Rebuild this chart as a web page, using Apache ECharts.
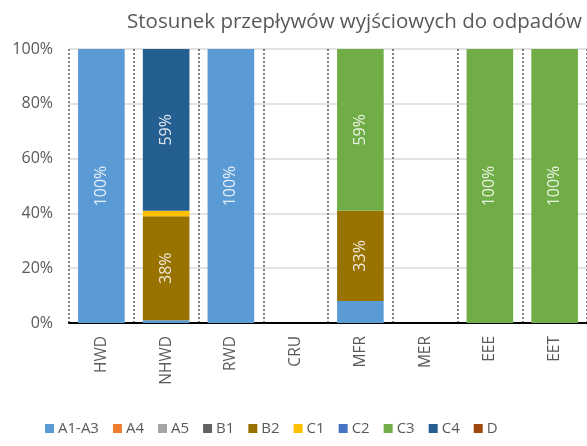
<!DOCTYPE html>
<html>
<head>
<meta charset="utf-8">
<script src="https://cdn.jsdelivr.net/npm/echarts@6/dist/echarts.min.js"></script>
<style>
  html, body { margin: 0; padding: 0; background: #fff; }
  #chart { width: 587px; height: 446px; }
</style>
</head>
<body>
<div id="chart"></div>
<script>
var categories = ['HWD', 'NHWD', 'RWD', 'CRU', 'MFR', 'MER', 'EEE', 'EET'];
var seriesNames = ['A1-A3', 'A4', 'A5', 'B1', 'B2', 'C1', 'C2', 'C3', 'C4', 'D'];
var seriesColors = ['#5B9BD5', '#ED7D31', '#A5A5A5', '#636363', '#997300', '#FFC000', '#4472C4', '#70AD47', '#255E91', '#9E480E'];

// udzial procentowy w kazdej kategorii
var a1a3 = [100, 1, 100, 0, 8, 0, 0, 0];
var a4 = [0, 0, 0, 0, 0, 0, 0, 0];
var a5 = [0, 0, 0, 0, 0, 0, 0, 0];
var b1 = [0, 0, 0, 0, 0, 0, 0, 0];
var b2 = [0, 38, 0, 0, 33, 0, 0, 0];
var c1 = [0, 2, 0, 0, 0, 0, 0, 0];
var c2 = [0, 0, 0, 0, 0, 0, 0, 0];
var c3 = [0, 0, 0, 0, 59, 0, 100, 100];
var c4 = [0, 59, 0, 0, 0, 0, 0, 0];
var d = [0, 0, 0, 0, 0, 0, 0, 0];
var yTicks = [0, 20, 40, 60, 80, 100];

var allData = [a1a3, a4, a5, b1, b2, c1, c2, c3, c4, d];
var textColor = '#595959';
var font = 'Open Sans';

var series = [];
for (var i = 0; i < seriesNames.length; i++) {
  series.push({
    name: seriesNames[i],
    type: 'bar',
    stack: 'total',
    barCategoryGap: '28%',
    data: allData[i],
    itemStyle: { color: seriesColors[i] },
    label: {
      show: true,
      position: 'inside',
      rotate: 90,
      color: 'rgba(255,255,255,0.85)',
      fontFamily: font,
      fontSize: 16,
      formatter: function (p) {
        return p.value >= 10 ? p.value + '%' : '';
      }
    }
  });
}

var chart = echarts.init(document.getElementById('chart'));
chart.setOption({
  animation: false,
  title: {
    text: 'Stosunek przepływów wyjściowych do odpadów',
    left: 122,
    top: 7,
    textStyle: { color: textColor, fontFamily: font, fontSize: 20.5, fontWeight: 'normal' }
  },
  legend: {
    data: seriesNames,
    left: 40,
    top: 416,
    itemWidth: 9,
    itemHeight: 9,
    itemGap: 14,
    icon: 'rect',
    textStyle: { color: textColor, fontFamily: font, fontSize: 15, padding: [0, 0, 0, -1] }
  },
  grid: {
    left: 69,
    top: 49,
    width: 525,
    height: 274
  },
  xAxis: {
    type: 'category',
    data: categories,
    axisLine: { lineStyle: { color: '#000', width: 2 } },
    axisTick: { show: false },
    axisLabel: {
      rotate: 90,
      margin: 13,
      color: textColor,
      fontFamily: font,
      fontSize: 15.5
    },
    splitLine: {
      show: true,
      lineStyle: { color: '#595959', type: [2, 2], width: 1.5 }
    }
  },
  yAxis: {
    type: 'value',
    min: yTicks[0],
    max: yTicks[yTicks.length - 1],
    interval: yTicks[1] - yTicks[0],
    axisLine: { show: false },
    axisTick: { show: false },
    axisLabel: {
      formatter: '{value}%',
      margin: 16,
      color: textColor,
      fontFamily: font,
      fontSize: 16
    },
    splitLine: { lineStyle: { color: '#D9D9D9', width: 1.5 } }
  },
  series: series
});
</script>
</body>
</html>
